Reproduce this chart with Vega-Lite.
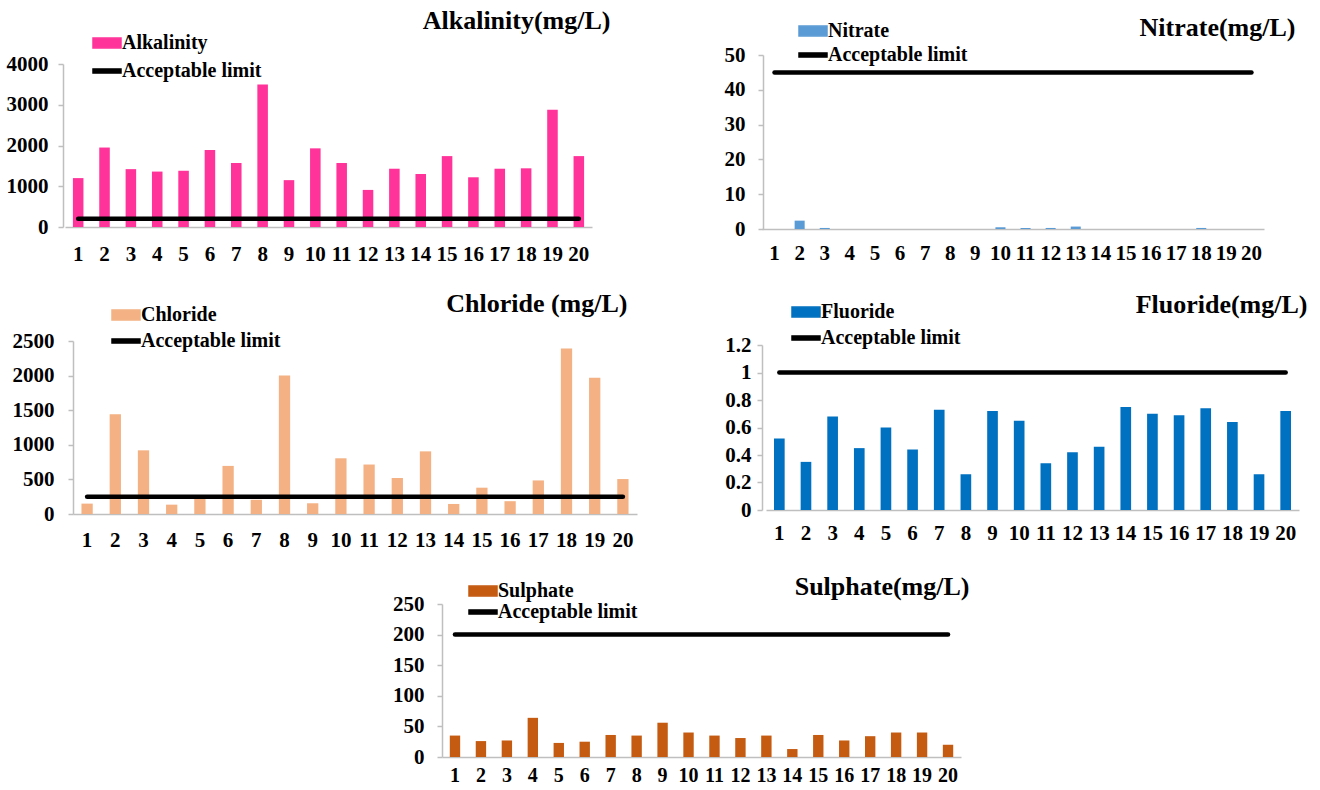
{
  "$schema": "https://vega.github.io/schema/vega-lite/v6.json",
  "background": "white",
  "autosize": {"type": "none"},
  "padding": 0,
  "width": 1320,
  "height": 790,
  "datasets": {
    "alk": [
      {"s": 1, "v": 1200, "limit": 200}, {"s": 2, "v": 1950, "limit": 200}, {"s": 3, "v": 1420, "limit": 200}, {"s": 4, "v": 1360, "limit": 200},
      {"s": 5, "v": 1380, "limit": 200}, {"s": 6, "v": 1890, "limit": 200}, {"s": 7, "v": 1570, "limit": 200}, {"s": 8, "v": 3500, "limit": 200},
      {"s": 9, "v": 1150, "limit": 200}, {"s": 10, "v": 1930, "limit": 200}, {"s": 11, "v": 1570, "limit": 200}, {"s": 12, "v": 910, "limit": 200},
      {"s": 13, "v": 1430, "limit": 200}, {"s": 14, "v": 1300, "limit": 200}, {"s": 15, "v": 1740, "limit": 200}, {"s": 16, "v": 1220, "limit": 200},
      {"s": 17, "v": 1430, "limit": 200}, {"s": 18, "v": 1440, "limit": 200}, {"s": 19, "v": 2880, "limit": 200}, {"s": 20, "v": 1740, "limit": 200}
    ],
    "nit": [
      {"s": 1, "v": 0, "limit": 45}, {"s": 2, "v": 2.4, "limit": 45}, {"s": 3, "v": 0.3, "limit": 45}, {"s": 4, "v": 0, "limit": 45},
      {"s": 5, "v": 0, "limit": 45}, {"s": 6, "v": 0, "limit": 45}, {"s": 7, "v": 0, "limit": 45}, {"s": 8, "v": 0, "limit": 45},
      {"s": 9, "v": 0, "limit": 45}, {"s": 10, "v": 0.5, "limit": 45}, {"s": 11, "v": 0.3, "limit": 45}, {"s": 12, "v": 0.3, "limit": 45},
      {"s": 13, "v": 0.7, "limit": 45}, {"s": 14, "v": 0, "limit": 45}, {"s": 15, "v": 0, "limit": 45}, {"s": 16, "v": 0, "limit": 45},
      {"s": 17, "v": 0, "limit": 45}, {"s": 18, "v": 0.3, "limit": 45}, {"s": 19, "v": 0, "limit": 45}, {"s": 20, "v": 0, "limit": 45}
    ],
    "chl": [
      {"s": 1, "v": 150, "limit": 250}, {"s": 2, "v": 1440, "limit": 250}, {"s": 3, "v": 920, "limit": 250}, {"s": 4, "v": 135, "limit": 250},
      {"s": 5, "v": 240, "limit": 250}, {"s": 6, "v": 695, "limit": 250}, {"s": 7, "v": 205, "limit": 250}, {"s": 8, "v": 2000, "limit": 250},
      {"s": 9, "v": 155, "limit": 250}, {"s": 10, "v": 805, "limit": 250}, {"s": 11, "v": 715, "limit": 250}, {"s": 12, "v": 520, "limit": 250},
      {"s": 13, "v": 905, "limit": 250}, {"s": 14, "v": 145, "limit": 250}, {"s": 15, "v": 380, "limit": 250}, {"s": 16, "v": 185, "limit": 250},
      {"s": 17, "v": 485, "limit": 250}, {"s": 18, "v": 2390, "limit": 250}, {"s": 19, "v": 1970, "limit": 250}, {"s": 20, "v": 505, "limit": 250}
    ],
    "flu": [
      {"s": 1, "v": 0.52, "limit": 1}, {"s": 2, "v": 0.35, "limit": 1}, {"s": 3, "v": 0.68, "limit": 1}, {"s": 4, "v": 0.45, "limit": 1},
      {"s": 5, "v": 0.6, "limit": 1}, {"s": 6, "v": 0.44, "limit": 1}, {"s": 7, "v": 0.73, "limit": 1}, {"s": 8, "v": 0.26, "limit": 1},
      {"s": 9, "v": 0.72, "limit": 1}, {"s": 10, "v": 0.65, "limit": 1}, {"s": 11, "v": 0.34, "limit": 1}, {"s": 12, "v": 0.42, "limit": 1},
      {"s": 13, "v": 0.46, "limit": 1}, {"s": 14, "v": 0.75, "limit": 1}, {"s": 15, "v": 0.7, "limit": 1}, {"s": 16, "v": 0.69, "limit": 1},
      {"s": 17, "v": 0.74, "limit": 1}, {"s": 18, "v": 0.64, "limit": 1}, {"s": 19, "v": 0.26, "limit": 1}, {"s": 20, "v": 0.72, "limit": 1}
    ],
    "sul": [
      {"s": 1, "v": 35, "limit": 200}, {"s": 2, "v": 26, "limit": 200}, {"s": 3, "v": 27, "limit": 200}, {"s": 4, "v": 64, "limit": 200},
      {"s": 5, "v": 23, "limit": 200}, {"s": 6, "v": 25, "limit": 200}, {"s": 7, "v": 36, "limit": 200}, {"s": 8, "v": 35, "limit": 200},
      {"s": 9, "v": 56, "limit": 200}, {"s": 10, "v": 40, "limit": 200}, {"s": 11, "v": 35, "limit": 200}, {"s": 12, "v": 31, "limit": 200},
      {"s": 13, "v": 35, "limit": 200}, {"s": 14, "v": 13, "limit": 200}, {"s": 15, "v": 36, "limit": 200}, {"s": 16, "v": 27, "limit": 200},
      {"s": 17, "v": 34, "limit": 200}, {"s": 18, "v": 40, "limit": 200}, {"s": 19, "v": 40, "limit": 200}, {"s": 20, "v": 20, "limit": 200}
    ]
  },
  "resolve": {"scale": {"color": "independent", "x": "independent", "y": "independent"}, "axis": {"x": "independent", "y": "independent"}, "legend": {"color": "independent"}},
  "layer": [
    {
      "data": {"name": "alk"},
      "encoding": {"x": {"field": "s", "type": "ordinal", "scale": {"range": [65, 592], "paddingInner": 0.6, "paddingOuter": 0.3},
        "axis": {"orient": "bottom", "offset": -563, "labelPadding": 16, "title": "Alkalinity(mg/L)", "titleX": 610, "titleY": -199}}},
      "layer": [
        {
          "mark": {"type": "bar"},
          "encoding": {
            "y": {"field": "v", "type": "quantitative", "title": null, "scale": {"domain": [0, 4000], "nice": false, "range": [227, 64]},
              "axis": {"orient": "left", "offset": -63, "values": [0, 1000, 2000, 3000, 4000], "labelPadding": 10, "format": "d"}},
            "color": {"datum": "Alkalinity", "type": "nominal", "scale": {"domain": ["Alkalinity", "Acceptable limit"], "range": ["#FF3399", "#000000"]},
              "legend": {"legendX": 90, "legendY": 33, "rowPadding": 8,
                "encode": {"symbols": {"update": {
                  "shape": {"signal": "datum.value === 'Acceptable limit' ? 'M-1,-0.3H3V0.3H-1Z' : 'M-1,-0.7H3V0.7H-1Z'"},
                  "fill": {"signal": "datum.value === 'Acceptable limit' ? '#000000' : '#FF3399'"},
                  "stroke": {"value": "transparent"}, "opacity": {"value": 1}}}}}}
          }
        },
        {
          "mark": {"type": "line", "strokeWidth": 4.5, "strokeCap": "round"},
          "encoding": {"y": {"field": "limit", "type": "quantitative", "title": null}, "color": {"datum": "Acceptable limit", "type": "nominal"}}
        }
      ]
    },
    {
      "data": {"name": "nit"},
      "encoding": {"x": {"field": "s", "type": "ordinal", "scale": {"range": [762, 1264], "paddingInner": 0.6, "paddingOuter": 0.3},
        "axis": {"orient": "bottom", "offset": -561, "labelPadding": 13, "title": "Nitrate(mg/L)", "titleX": 1295, "titleY": -194}}},
      "layer": [
        {
          "mark": {"type": "bar"},
          "encoding": {
            "y": {"field": "v", "type": "quantitative", "title": null, "scale": {"domain": [0, 50], "nice": false, "range": [229, 55]},
              "axis": {"orient": "left", "offset": -763, "values": [0, 10, 20, 30, 40, 50], "labelPadding": 13, "format": "d"}},
            "color": {"datum": "Nitrate", "type": "nominal", "scale": {"domain": ["Nitrate", "Acceptable limit"], "range": ["#5B9BD5", "#000000"]},
              "legend": {"legendX": 796, "legendY": 21, "rowPadding": 4,
                "encode": {"symbols": {"update": {
                  "shape": {"signal": "datum.value === 'Acceptable limit' ? 'M-1,-0.3H3V0.3H-1Z' : 'M-1,-0.7H3V0.7H-1Z'"},
                  "fill": {"signal": "datum.value === 'Acceptable limit' ? '#000000' : '#5B9BD5'"},
                  "stroke": {"value": "transparent"}, "opacity": {"value": 1}}}}}}
          }
        },
        {
          "mark": {"type": "line", "strokeWidth": 4.5, "strokeCap": "round"},
          "encoding": {"y": {"field": "limit", "type": "quantitative", "title": null}, "color": {"datum": "Acceptable limit", "type": "nominal"}}
        }
      ]
    },
    {
      "data": {"name": "chl"},
      "encoding": {"x": {"field": "s", "type": "ordinal", "scale": {"range": [73, 637], "paddingInner": 0.6, "paddingOuter": 0.3},
        "axis": {"orient": "bottom", "offset": -276, "labelPadding": 15, "title": "Chloride (mg/L)", "titleX": 627, "titleY": -203}}},
      "layer": [
        {
          "mark": {"type": "bar"},
          "encoding": {
            "y": {"field": "v", "type": "quantitative", "title": null, "scale": {"domain": [0, 2500], "nice": false, "range": [514, 341]},
              "axis": {"orient": "left", "offset": -73, "values": [0, 500, 1000, 1500, 2000, 2500], "labelPadding": 14, "format": "d"}},
            "color": {"datum": "Chloride", "type": "nominal", "scale": {"domain": ["Chloride", "Acceptable limit"], "range": ["#F4B183", "#000000"]},
              "legend": {"legendX": 109, "legendY": 305, "rowPadding": 6,
                "encode": {"symbols": {"update": {
                  "shape": {"signal": "datum.value === 'Acceptable limit' ? 'M-1,-0.3H3V0.3H-1Z' : 'M-1,-0.7H3V0.7H-1Z'"},
                  "fill": {"signal": "datum.value === 'Acceptable limit' ? '#000000' : '#F4B183'"},
                  "stroke": {"value": "transparent"}, "opacity": {"value": 1}}}}}}
          }
        },
        {
          "mark": {"type": "line", "strokeWidth": 4.5, "strokeCap": "round"},
          "encoding": {"y": {"field": "limit", "type": "quantitative", "title": null}, "color": {"datum": "Acceptable limit", "type": "nominal"}}
        }
      ]
    },
    {
      "data": {"name": "flu"},
      "encoding": {"x": {"field": "s", "type": "ordinal", "scale": {"range": [766, 1299], "paddingInner": 0.6, "paddingOuter": 0.3},
        "axis": {"orient": "bottom", "offset": -280, "labelPadding": 12, "title": "Fluoride(mg/L)", "titleX": 1307, "titleY": -198}}},
      "layer": [
        {
          "mark": {"type": "bar"},
          "encoding": {
            "y": {"field": "v", "type": "quantitative", "title": null, "scale": {"domain": [0, 1.2], "nice": false, "range": [510, 345]},
              "axis": {"orient": "left", "offset": -762, "values": [0, 0.2, 0.4, 0.6, 0.8, 1, 1.2], "labelPadding": 6, "format": "~g"}},
            "color": {"datum": "Fluoride", "type": "nominal", "scale": {"domain": ["Fluoride", "Acceptable limit"], "range": ["#0070C0", "#000000"]},
              "legend": {"legendX": 789, "legendY": 302, "rowPadding": 6,
                "encode": {"symbols": {"update": {
                  "shape": {"signal": "datum.value === 'Acceptable limit' ? 'M-1,-0.3H3V0.3H-1Z' : 'M-1,-0.7H3V0.7H-1Z'"},
                  "fill": {"signal": "datum.value === 'Acceptable limit' ? '#000000' : '#0070C0'"},
                  "stroke": {"value": "transparent"}, "opacity": {"value": 1}}}}}}
          }
        },
        {
          "mark": {"type": "line", "strokeWidth": 4.5, "strokeCap": "round"},
          "encoding": {"y": {"field": "limit", "type": "quantitative", "title": null}, "color": {"datum": "Acceptable limit", "type": "nominal"}}
        }
      ]
    },
    {
      "data": {"name": "sul"},
      "encoding": {"x": {"field": "s", "type": "ordinal", "scale": {"range": [442, 961], "paddingInner": 0.6, "paddingOuter": 0.3},
        "axis": {"orient": "bottom", "offset": -33, "labelPadding": 8, "labelFontSize": 20, "title": "Sulphate(mg/L)", "titleX": 969, "titleY": -163}}},
      "layer": [
        {
          "mark": {"type": "bar"},
          "encoding": {
            "y": {"field": "v", "type": "quantitative", "title": null, "scale": {"domain": [0, 250], "nice": false, "range": [757, 604]},
              "axis": {"orient": "left", "offset": -442, "values": [0, 50, 100, 150, 200, 250], "labelPadding": 13, "format": "d"}},
            "color": {"datum": "Sulphate", "type": "nominal", "scale": {"domain": ["Sulphate", "Acceptable limit"], "range": ["#C55A11", "#000000"]},
              "legend": {"legendX": 466, "legendY": 581, "rowPadding": 1,
                "encode": {"symbols": {"update": {
                  "shape": {"signal": "datum.value === 'Acceptable limit' ? 'M-1,-0.3H3V0.3H-1Z' : 'M-1,-0.7H3V0.7H-1Z'"},
                  "fill": {"signal": "datum.value === 'Acceptable limit' ? '#000000' : '#C55A11'"},
                  "stroke": {"value": "transparent"}, "opacity": {"value": 1}}}}}}
          }
        },
        {
          "mark": {"type": "line", "strokeWidth": 4.5, "strokeCap": "round"},
          "encoding": {"y": {"field": "limit", "type": "quantitative", "title": null}, "color": {"datum": "Acceptable limit", "type": "nominal"}}
        }
      ]
    }
  ],
  "config": {
    "view": {"stroke": null},
    "font": "Liberation Serif",
    "axis": {"labelFont": "Liberation Serif", "labelFontSize": 21, "labelFontWeight": "bold", "labelColor": "#000000", "labelOverlap": false, "domainColor": "#BFBFBF", "domainWidth": 1.5, "tickColor": "#BFBFBF", "tickSize": 5, "tickWidth": 1.5, "grid": false,
      "titleFont": "Liberation Serif", "titleFontSize": 26, "titleFontWeight": "bold", "titleColor": "#000000", "titleAngle": 0, "titleAlign": "right", "titleBaseline": "alphabetic", "titlePadding": 0},
    "axisX": {"ticks": false, "labelAngle": 0},
    "legend": {"orient": "none", "title": null, "labelFont": "Liberation Serif", "labelFontSize": 20, "labelFontWeight": "bold", "labelColor": "#000000", "symbolSize": 196, "labelOffset": 12, "padding": 0}
  }
}
